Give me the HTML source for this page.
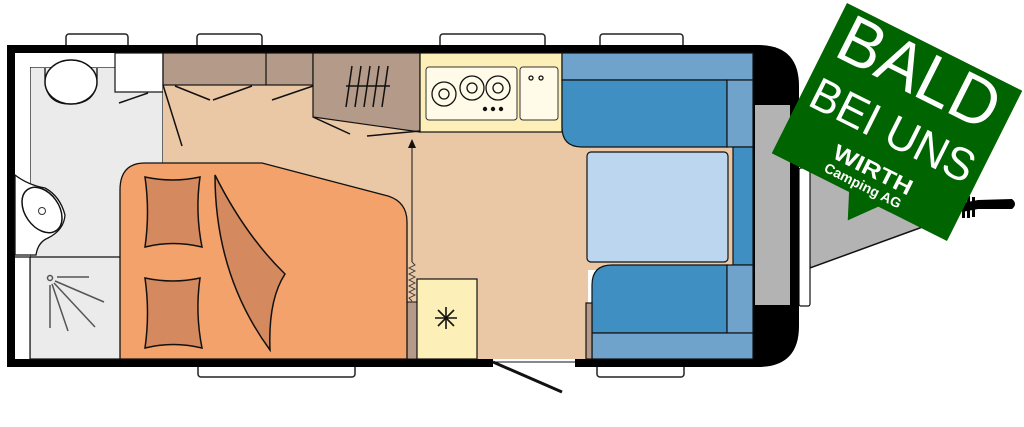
<!DOCTYPE html>
<html><head><meta charset="utf-8"><style>
html,body{margin:0;padding:0;background:#fff;width:1024px;height:427px;overflow:hidden}
svg{display:block}
</style></head><body>
<svg width="1024" height="427" viewBox="0 0 1024 427" xmlns="http://www.w3.org/2000/svg" font-family="Liberation Sans, sans-serif">
<g fill="#fff" stroke="#222" stroke-width="1.5">
<rect x="66" y="34" width="62" height="16" rx="3"/>
<rect x="197" y="34" width="65" height="16" rx="3"/>
<rect x="440" y="34" width="105" height="16" rx="3"/>
<rect x="600" y="34" width="83" height="16" rx="3"/>
<rect x="198" y="360" width="157" height="17" rx="3"/>
<rect x="597" y="360" width="87" height="17" rx="3"/>
</g>
<path d="M805,150 L900,150 L928,225 L810,268 Z" fill="#b3b3b4" stroke="#111" stroke-width="1.5"/>
<rect x="799" y="168" width="11" height="138" rx="2" fill="#fff" stroke="#111" stroke-width="1.2"/>
<path d="M962,203 L978,200 L1012,199 Q1018,204 1012,209 L978,209 L962,212 Z" fill="#000"/>
<rect x="962" y="196" width="3" height="22" fill="#000"/><rect x="967" y="196" width="3" height="22" fill="#000"/><rect x="972" y="197" width="3" height="20" fill="#000"/>
<path d="M7,45 H758 Q799,45 799,86 V326 Q799,367 758,367 H7 Z" fill="#000"/>
<rect x="755" y="105" width="35" height="200" fill="#b3b3b4"/>
<rect x="15" y="53" width="738" height="306" fill="#fff"/>
<rect x="30" y="67" width="133" height="292" fill="#ebebeb" stroke="#111" stroke-width="1.2"/>
<rect x="15" y="53" width="15" height="306" fill="#fff"/>
<rect x="30" y="53" width="85" height="14" fill="#fff"/>
<rect x="115" y="53" width="48" height="39" fill="#fff" stroke="#111" stroke-width="1.2"/>
<line x1="15" y1="257" x2="120" y2="257" stroke="#111" stroke-width="1.2"/>
<line x1="30" y1="257" x2="30" y2="359" stroke="#111" stroke-width="1.2"/>
<path d="M45,68 V78 Q45,104 70,104 Q97,104 97,78 V68" fill="none" stroke="#111" stroke-width="1.3"/>
<ellipse cx="71" cy="82" rx="26" ry="22" fill="#fff" stroke="#111" stroke-width="1.5"/>
<line x1="119" y1="103" x2="148" y2="93" stroke="#111" stroke-width="1.5"/>
<path d="M15,175 Q28,185 45,188 Q60,196 65,215 Q64,230 48,238 Q38,242 36,255 L15,255 Z" fill="#fff" stroke="#111" stroke-width="1.3"/>
<ellipse cx="42" cy="210" rx="17" ry="25" transform="rotate(-35 42 210)" fill="#fff" stroke="#111" stroke-width="1.5"/>
<circle cx="42" cy="211" r="3.5" fill="none" stroke="#333" stroke-width="1"/>
<g stroke="#555" stroke-width="1.5" fill="none">
<circle cx="50" cy="278" r="2.5"/>
<line x1="57" y1="277" x2="89" y2="277"/><line x1="55" y1="281" x2="104" y2="302"/>
<line x1="54" y1="283" x2="95" y2="327"/><line x1="52" y1="284" x2="68" y2="331"/><line x1="50" y1="285" x2="50" y2="328"/>
</g>
<rect x="163" y="53" width="425" height="306" fill="#eac8a6"/>
<rect x="580" y="140" width="155" height="130" fill="#eac8a6"/>
<rect x="163" y="53" width="150" height="32" fill="#b39a89" stroke="#111" stroke-width="1.2"/>
<line x1="266" y1="53" x2="266" y2="85" stroke="#111" stroke-width="1.2"/>
<path d="M313,53 H420 V132 L313,117 Z" fill="#b39a89" stroke="#111" stroke-width="1.2"/>
<g stroke="#111" stroke-width="1.5">
<line x1="346" y1="86" x2="390" y2="86"/>
<line x1="352" y1="66" x2="346" y2="107"/><line x1="361" y1="66" x2="355" y2="107"/><line x1="370" y1="66" x2="364" y2="107"/><line x1="379" y1="66" x2="373" y2="107"/><line x1="388" y1="66" x2="382" y2="107"/>
<line x1="163" y1="85" x2="182" y2="146"/><line x1="175" y1="86" x2="210" y2="100"/><line x1="213" y1="100" x2="252" y2="86"/><line x1="272" y1="100" x2="313" y2="86"/>
<line x1="313" y1="117" x2="350" y2="134"/><line x1="367" y1="136" x2="420" y2="131"/>
</g>
<line x1="412" y1="262" x2="412" y2="146" stroke="#111" stroke-width="1"/>
<path d="M408,148 L412,139 L416,148 Z" fill="#111"/>
<path d="M412,262 l3,3 l-6,3 l6,3 l-6,3 l6,3 l-6,3 l6,3 l-6,3 l6,3 l-6,3 l6,3 l-6,3 l3,3" fill="none" stroke="#333" stroke-width="0.9"/>
<rect x="407" y="302" width="10" height="57" fill="#b39a89" stroke="#111" stroke-width="1"/>
<path d="M145,163 H262 L388,196 Q407,202 407,222 V359 H120 V190 Q120,163 145,163 Z" fill="#f4a26b" stroke="#111" stroke-width="1.3"/>
<g fill="#d4895f" stroke="#111" stroke-width="1.5">
<path d="M145,177 Q173,183 200,177 Q195,212 202,247 Q173,240 145,247 Q150,212 145,177 Z"/>
<path d="M145,278 Q173,284 200,278 Q195,313 202,348 Q173,341 145,348 Q150,313 145,278 Z"/>
<path d="M215,175 Q245,235 285,274 Q268,300 270,350 Q215,275 215,175 Z"/>
</g>
<rect x="417" y="279" width="60" height="80" fill="#fdefb8" stroke="#111" stroke-width="1.2"/>
<g stroke="#111" stroke-width="1.6"><line x1="446" y1="307" x2="446" y2="329"/><line x1="435" y1="318" x2="457" y2="318"/><line x1="438" y1="310" x2="454" y2="326"/><line x1="438" y1="326" x2="454" y2="310"/></g>
<rect x="420" y="53" width="142" height="79" fill="#fdefb8" stroke="#111" stroke-width="1.2"/>
<rect x="426" y="67" width="91" height="53" rx="3" fill="#fffbe8" stroke="#333" stroke-width="1"/>
<rect x="520" y="67" width="38" height="53" rx="3" fill="#fffbe8" stroke="#333" stroke-width="1"/>
<g fill="none" stroke="#111" stroke-width="1.3">
<circle cx="444" cy="94" r="12"/><circle cx="444" cy="94" r="5"/>
<circle cx="472" cy="88" r="12"/><circle cx="472" cy="88" r="5"/>
<circle cx="498" cy="88" r="12"/><circle cx="498" cy="88" r="5"/>
<circle cx="531" cy="78" r="2"/><circle cx="541" cy="78" r="2"/>
</g>
<circle cx="485" cy="109" r="2.2" fill="#111"/><circle cx="493" cy="109" r="2.2" fill="#111"/><circle cx="501" cy="109" r="2.2" fill="#111"/>
<g stroke="#111" stroke-width="1.2">
<rect x="562" y="53" width="191" height="27" fill="#6fa3cc"/>
<path d="M562,80 H727 V147 H582 Q562,147 562,127 Z" fill="#3f8fc3"/>
<rect x="727" y="80" width="26" height="67" fill="#6fa3cc"/>
<rect x="733" y="147" width="20" height="118" fill="#3f8fc3"/>
<rect x="587" y="152" width="141" height="110" rx="4" fill="#bcd6ef"/>
<path d="M592,333 V285 Q592,265 612,265 H727 V333 Z" fill="#3f8fc3"/>
<rect x="727" y="265" width="26" height="68" fill="#6fa3cc"/>
<rect x="592" y="333" width="161" height="26" fill="#6fa3cc"/>
<rect x="586" y="303" width="6" height="56" fill="#b39a89"/>
</g>
<rect x="493" y="359" width="82" height="8" fill="#fff"/>
<line x1="493" y1="362" x2="575" y2="362" stroke="#111" stroke-width="1"/>
<line x1="493" y1="362" x2="562" y2="392" stroke="#111" stroke-width="3"/>
<g transform="translate(897,122) rotate(26.6)">
<rect x="-98" y="-84" width="196" height="168" fill="#006400"/>
<path d="M-12,83 L22,83 L0,110 Z" fill="#006400"/>
<text x="-2" y="-31" text-anchor="middle" font-size="68" fill="#fff" textLength="172" lengthAdjust="spacingAndGlyphs">BALD</text>
<text x="0" y="25" text-anchor="middle" font-size="46" fill="#fff" textLength="178" lengthAdjust="spacingAndGlyphs">BEI UNS</text>
<text x="0" y="61" text-anchor="middle" font-size="22" font-weight="bold" fill="#fff" textLength="86" lengthAdjust="spacingAndGlyphs">WIRTH</text>
<text x="-2" y="77" text-anchor="middle" font-size="14" font-weight="bold" fill="#fff" textLength="84" lengthAdjust="spacingAndGlyphs">Camping AG</text>
</g>
</svg>
</body></html>
